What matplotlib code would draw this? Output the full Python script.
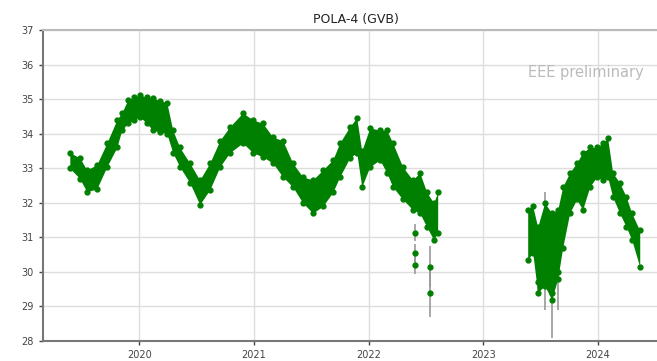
import numpy as np
import matplotlib
matplotlib.use("Agg")
import matplotlib.pyplot as plt

# --- data (decimal year, lower/upper edge of the band) ---
t_a = [2019.394, 2019.481, 2019.542, 2019.629, 2019.717, 2019.804, 2019.847, 2019.900,
       2019.952, 2020.004, 2020.065, 2020.118, 2020.179, 2020.240, 2020.292, 2020.353,
       2020.440, 2020.527, 2020.615, 2020.702, 2020.789, 2020.902, 2020.990, 2021.077,
       2021.164, 2021.251, 2021.338, 2021.425, 2021.513, 2021.600, 2021.687, 2021.748,
       2021.835, 2021.896, 2021.940, 2022.010, 2022.097, 2022.158, 2022.210, 2022.297,
       2022.384, 2022.446, 2022.507, 2022.567, 2022.602]
lo_a = [33.00, 32.70, 32.32, 32.40, 33.04, 33.60, 34.10, 34.30,
        34.40, 34.49, 34.30, 34.10, 34.05, 34.00, 33.45, 33.04,
        32.58, 31.95, 32.38, 33.04, 33.45, 33.73, 33.45, 33.33,
        33.15, 32.75, 32.46, 32.00, 31.70, 31.90, 32.30, 32.75,
        33.30, 33.45, 32.46, 33.04, 33.24, 32.87, 32.46, 32.10,
        31.80, 31.70, 31.30, 30.93, 31.13]
hi_a = [33.45, 33.30, 32.95, 33.10, 33.73, 34.40, 34.60, 34.98,
        35.05, 35.12, 35.05, 35.03, 34.95, 34.90, 34.10, 33.60,
        33.15, 32.66, 33.15, 33.80, 34.20, 34.60, 34.40, 34.30,
        33.90, 33.80, 33.15, 32.75, 32.66, 32.95, 33.24, 33.73,
        34.20, 34.46, 33.50, 34.17, 34.10, 34.10, 33.73, 33.04,
        32.66, 32.87, 32.30, 32.00, 32.30]

t_b = [2023.387, 2023.431, 2023.474, 2023.535, 2023.596, 2023.649, 2023.692, 2023.753,
       2023.814, 2023.866, 2023.928, 2023.989, 2024.041, 2024.084, 2024.128, 2024.189,
       2024.246, 2024.294, 2024.364]
lo_b = [30.35, 30.55, 29.40, 29.60, 29.20, 29.80, 30.70, 31.70,
        32.10, 31.80, 32.46, 32.75, 32.66, 32.75, 32.17, 31.70,
        31.30, 30.93, 30.15]
hi_b = [31.80, 31.90, 31.30, 32.00, 31.70, 31.80, 32.46, 32.87,
        33.15, 33.45, 33.60, 33.60, 33.73, 33.88, 32.87, 32.58,
        32.17, 31.70, 31.20]

# isolated low points with their (grey) error bars
out_t = [2022.401, 2022.401, 2022.401, 2022.532, 2022.532,
         2023.535, 2023.596, 2023.649, 2023.474]
out_y = [31.13, 30.55, 30.20, 30.15, 29.40,
         30.60, 29.40, 30.00, 29.70]
out_err = [0.25, 0.25, 0.25, 0.60, 0.70,
           1.70, 1.30, 1.10, 0.40]

GREEN = "#008000"

fig = plt.figure(figsize=(6.57, 3.61), dpi=100)
ax = fig.add_axes([0.0654, 0.0554, 0.953, 0.8615])

ax.errorbar(out_t, out_y, yerr=out_err, fmt="o", ms=3.5, color=GREEN,
            ecolor="#999999", elinewidth=1.2, zorder=2)

for t, lo, hi in [(t_a, lo_a, hi_a), (t_b, lo_b, hi_b)]:
    ax.fill_between(t, lo, hi, color=GREEN, lw=0, zorder=3)
    ax.plot(t, lo, "o", ms=3.5, color=GREEN, zorder=3)
    ax.plot(t, hi, "o", ms=3.5, color=GREEN, zorder=3)

ax.set_xlim(2019.16, 2024.62)
ax.set_ylim(28, 37)
ax.set_yticks(range(28, 38))
ax.set_xticks([2020, 2021, 2022, 2023, 2024])
ax.set_xticklabels(["2020", "2021", "2022", "2023", "2024"])
ax.grid(True, color="#dddddd", lw=1.0, zorder=0)
ax.set_axisbelow(True)
ax.tick_params(labelsize=7, colors="#444444", length=3, width=1)

for side in ["left", "bottom"]:
    ax.spines[side].set_color("#777777")
    ax.spines[side].set_linewidth(1.5)
ax.spines["top"].set_color("#bbbbbb")
ax.spines["top"].set_linewidth(1.5)
ax.spines["right"].set_visible(False)

ax.set_title("POLA-4 (GVB)", fontsize=9, color="#222222", pad=5)
ax.text(2024.40, 35.76, "EEE preliminary", fontsize=10.5, color="#bbbbbb",
        ha="right", va="center")

fig.savefig("out.png", dpi=100)
